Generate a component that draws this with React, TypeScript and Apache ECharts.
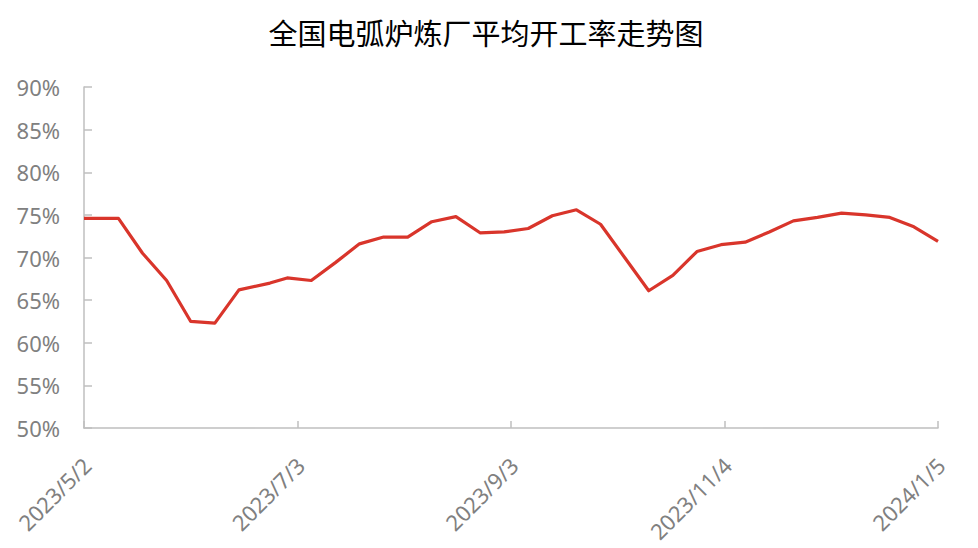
import React, { useEffect, useRef } from "react";
import * as echarts from "echarts";

const TITLE = "全国电弧炉炼厂平均开工率走势图";

const dates: string[] = [
  "2023/5/2", "2023/5/12", "2023/5/19", "2023/5/26", "2023/6/2", "2023/6/9",
  "2023/6/16", "2023/6/25", "2023/6/30", "2023/7/7", "2023/7/14", "2023/7/21",
  "2023/7/28", "2023/8/4", "2023/8/11", "2023/8/18", "2023/8/25", "2023/9/1",
  "2023/9/8", "2023/9/15", "2023/9/22", "2023/9/29", "2023/10/6", "2023/10/13",
  "2023/10/20", "2023/10/27", "2023/11/3", "2023/11/10", "2023/11/17", "2023/11/24",
  "2023/12/1", "2023/12/8", "2023/12/15", "2023/12/22", "2023/12/29", "2024/1/5",
];

const rates: number[] = [
  74.6, 74.6, 70.5, 67.3, 62.5, 62.3,
  66.2, 67.0, 67.6, 67.3, 69.4, 71.6,
  72.4, 72.4, 74.2, 74.8, 72.9, 73.0,
  73.4, 74.9, 75.6, 73.9, 70.0, 66.1,
  67.9, 70.7, 71.5, 71.8, 73.0, 74.3,
  74.7, 75.2, 75.0, 74.7, 73.6, 71.9,
];

const START = "2023/5/2";
const END = "2024/1/5";
const TICK_DAYS = 62;
const Y_MIN = 50;
const Y_MAX = 90;
const Y_STEP = 5;

const DAY = 86400000;
function toUTC(s: string): number {
  const [y, m, d] = s.split("/").map(Number);
  return Date.UTC(y, m - 1, d);
}
const t0 = toUTC(START);
const dayOf = (s: string) => Math.round((toUTC(s) - t0) / DAY);
function labelOf(v: number): string {
  const dt = new Date(t0 + v * DAY);
  return `${dt.getUTCFullYear()}/${dt.getUTCMonth() + 1}/${dt.getUTCDate()}`;
}

export default function App() {
  const ref = useRef<HTMLDivElement>(null);
  useEffect(() => {
    if (!ref.current) return;
    const chart = echarts.init(ref.current, undefined, { renderer: "svg" });
    const axisGray = "#bfbfbf";
    const labelGray = "#808080";
    const font = "'Noto Sans', 'Noto Sans CJK SC', sans-serif";
    chart.setOption({
      animation: false,
      backgroundColor: "#ffffff",
      title: {
        text: TITLE,
        left: 481,
        textAlign: "center",
        top: 12,
        textStyle: {
          fontFamily: "'Noto Sans CJK SC', sans-serif",
          fontSize: 29,
          fontWeight: "normal",
          color: "#000000",
        },
      },
      grid: { left: 84, right: 40, top: 87, bottom: 120 },
      xAxis: {
        type: "value",
        min: 0,
        max: dayOf(END),
        interval: TICK_DAYS,
        splitLine: { show: false },
        axisLine: { show: true, lineStyle: { color: axisGray, width: 1.5 } },
        axisTick: { show: true, inside: true, length: 7, lineStyle: { color: axisGray, width: 1.5 } },
        axisLabel: {
          rotate: 45,
          margin: 36,
          padding: [0, -4, 0, 0],
          color: labelGray,
          fontSize: 22,
          fontFamily: font,
          hideOverlap: false,
          showMinLabel: true,
          showMaxLabel: true,
          formatter: (v: number) => labelOf(v),
        },
      },
      yAxis: {
        type: "value",
        min: Y_MIN,
        max: Y_MAX,
        interval: Y_STEP,
        splitLine: { show: false },
        axisLine: { show: true, lineStyle: { color: axisGray, width: 1.5 } },
        axisTick: { show: true, inside: true, length: 8, lineStyle: { color: axisGray, width: 1.5 } },
        axisLabel: {
          color: labelGray,
          fontSize: 22,
          fontFamily: font,
          margin: 24,
          formatter: "{value}%",
        },
      },
      series: [
        {
          type: "line",
          data: dates.map((d, i) => [dayOf(d), rates[i]]),
          showSymbol: false,
          symbol: "none",
          lineStyle: { color: "#d9352b", width: 3.2, join: "round" },
        },
      ],
    });
    return () => chart.dispose();
  }, []);
  return (
    <div
      ref={ref}
      style={{ position: "fixed", left: 0, top: 0, width: 978, height: 548, background: "#fff" }}
    />
  );
}
